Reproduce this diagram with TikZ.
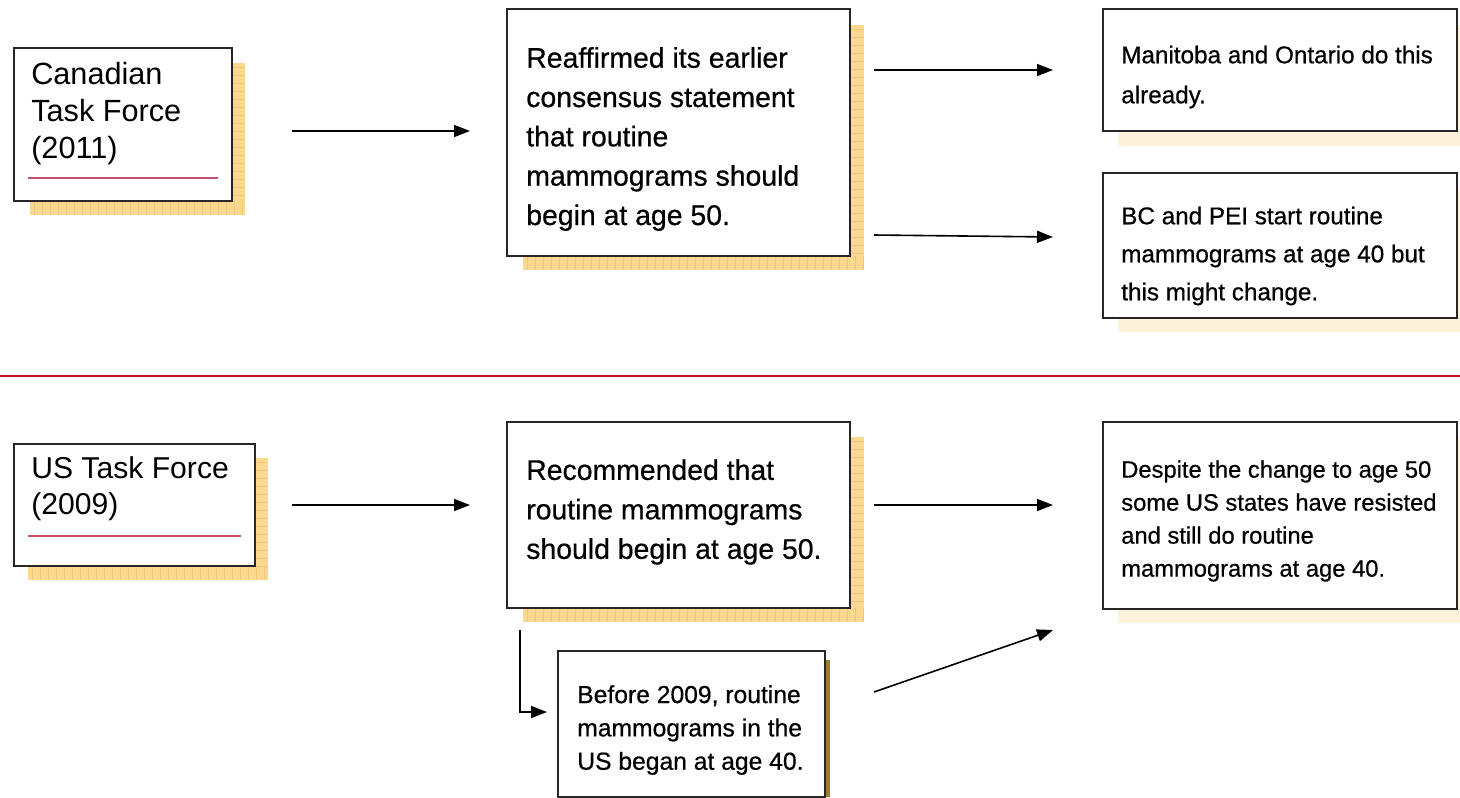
\documentclass[tikz,border=0pt]{standalone}
\usepackage{fontspec}
\setmainfont{Liberation Sans}
\newfontfamily\bodyfont[FakeBold=0.6]{Liberation Sans}
\usetikzlibrary{arrows.meta,fit}
\definecolor{gold}{HTML}{FBD88F}
\definecolor{goldline}{HTML}{F0C878}
\definecolor{pale}{HTML}{FEF2DC}
\definecolor{darkstrip}{HTML}{9E7B31}
\definecolor{underl}{HTML}{C4506E}
\definecolor{sepred}{HTML}{C0161B}
\tikzset{
  boxnode/.style={draw=black!85, line width=1.3pt, fill=white, inner sep=0pt},
  txt/.style={anchor=west, align=left, inner sep=0pt, text=black},
  arr/.style={line width=1.2pt, -{Triangle[length=12pt,width=9pt]}},
  uline/.style={underl, line width=1.4pt},
}
\newcommand\goldshade[4]{%
  \fill[gold] (#1,#2) rectangle (#3,#4);
  \begin{scope}
    \clip (#1,{#4-14}) rectangle (#3,#4);
    \foreach \i in {0,...,45} \draw[goldline, line width=0.5pt] ({#1+4+8*\i},{#4-14}) -- ++(0,14);
  \end{scope}
  \begin{scope}
    \clip ({#3-14},#2) rectangle (#3,{#4-14});
    \foreach \i in {0,...,35} \draw[goldline, line width=0.5pt] ({#3-14},{#2+4+8*\i}) -- ++(14,0);
  \end{scope}
}
\begin{document}
\begin{tikzpicture}[x=0.75pt,y=-0.75pt]
\useasboundingbox (0,0) rectangle (1460,797);
\fill[white] (0,0) rectangle (1460,797);

% shadows
\goldshade{30}{63}{245}{215}
\goldshade{523}{25}{864}{270}
\goldshade{28}{458}{268}{580}
\goldshade{523}{437}{864}{622}
\fill[pale] (1118,25) rectangle (1460,146);
\fill[pale] (1118,188) rectangle (1460,332);
\fill[pale] (1118,437) rectangle (1460,623);
\fill[darkstrip] (825,660) rectangle (830,797);

% boxes
\node[boxnode, fit={(14,48) (232,201)}] (b1) {};
\node[boxnode, fit={(507,9) (850,256)}] (b2) {};
\node[boxnode, fit={(1103,9) (1457,131)}] (b3) {};
\node[boxnode, fit={(1103,173) (1457,318)}] (b4) {};
\node[boxnode, fit={(14,444) (255,566)}] (b5) {};
\node[boxnode, fit={(507,422) (850,608)}] (b6) {};
\node[boxnode, fit={(1103,422) (1457,609)}] (b7) {};
\node[boxnode, fit={(558,651) (825,797)}] (b8) {};

% underlines
\draw[uline] (28,178) -- (218,178);
\draw[uline] (28,536) -- (241,536);

% separator
\draw[sepred, line width=1.6pt] (0,376) -- (1460,376);

% texts
\node[txt, font=\fontsize{23}{27.75}\selectfont] (t1) at (31,114) {Canadian\\Task Force\\(2011)};
\node[txt, font=\bodyfont\fontsize{21.3}{29.5}\selectfont] (t2) at (526,139) {Reaffirmed its earlier\\consensus statement\\that routine\\mammograms should\\begin at age 50.};
\node[txt, font=\bodyfont\fontsize{18.2}{30}\selectfont] (t3) at (1121,77) {Manitoba and Ontario do this\\already.};
\node[txt, font=\bodyfont\fontsize{18.2}{28.5}\selectfont] (t4) at (1121,256) {BC and PEI start routine\\mammograms at age 40 but\\this might change.};
\node[txt, font=\fontsize{22.6}{27}\selectfont] (t5) at (31,489) {US Task Force\\(2009)};
\node[txt, font=\bodyfont\fontsize{21.3}{29.6}\selectfont] (t6) at (526,512) {Recommended that\\routine mammograms\\should begin at age 50.};
\node[txt, font=\bodyfont\fontsize{17.8}{24.75}\selectfont] (t7) at (1121,521) {Despite the change to age 50\\some US states have resisted\\and still do routine\\mammograms at age 40.};
\node[txt, font=\bodyfont\fontsize{18.5}{25}\selectfont] (t8) at (577,730) {Before 2009, routine\\mammograms in the\\US began at age 40.};

% connectors
\coordinate (a1s) at (292,131); \coordinate (a1e) at (470,131);
\coordinate (a2s) at (874,70);  \coordinate (a2e) at (1053,70);
\coordinate (a3s) at (874,235); \coordinate (a3e) at (1053,237);
\coordinate (a4s) at (292,505); \coordinate (a4e) at (470,505);
\coordinate (a5s) at (874,505); \coordinate (a5e) at (1053,505);
\coordinate (a6s) at (874,692); \coordinate (a6e) at (1053,630);
\coordinate (a7s) at (520,630); \coordinate (a7e) at (547,712);
\draw[arr] (a1s) -- (a1e);
\draw[arr] (a2s) -- (a2e);
\draw[arr] (a3s) -- (a3e);
\draw[arr] (a4s) -- (a4e);
\draw[arr] (a5s) -- (a5e);
\draw[arr] (a6s) -- (a6e);
\draw[arr] (a7s) |- (a7e);
\end{tikzpicture}
\end{document}
